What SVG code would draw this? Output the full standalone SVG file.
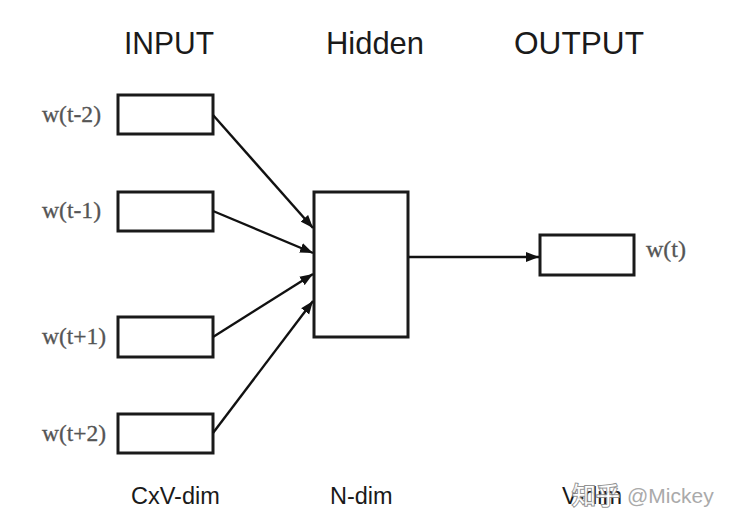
<svg xmlns="http://www.w3.org/2000/svg" width="732" height="526" viewBox="0 0 732 526">
<defs>
<marker id="ah" markerUnits="userSpaceOnUse" markerWidth="14" markerHeight="11" refX="13" refY="5.5" orient="auto">
<path d="M0,0.5 L13,5.5 L0,10.5 z" fill="#111"/>
</marker>
<style>
.box{fill:#fff;stroke:#1a1a1a;stroke-width:3}
.hdr{font-family:"Liberation Sans",Arial,sans-serif;font-size:32px;fill:#1a1a1a}
.dim{font-family:"Liberation Sans",Arial,sans-serif;font-size:23.5px;fill:#1a1a1a}
.lbl{font-family:"Liberation Serif","Times New Roman",serif;font-size:23px;fill:#555;stroke:#555;stroke-width:0.3}
.edge{stroke:#111;stroke-width:2.4;fill:none;marker-end:url(#ah)}
</style>
</defs>
<rect width="732" height="526" fill="#fff"/>
<g id="headers">
<text class="hdr" x="124" y="54" textLength="90" lengthAdjust="spacingAndGlyphs">INPUT</text>
<text class="hdr" x="326" y="54" textLength="98" lengthAdjust="spacingAndGlyphs">Hidden</text>
<text class="hdr" x="514" y="54" textLength="130" lengthAdjust="spacingAndGlyphs">OUTPUT</text>
</g>
<g id="in1">
<rect class="box" x="118" y="95" width="95" height="39"/>
<text class="lbl" x="42" y="122" textLength="59" lengthAdjust="spacingAndGlyphs">w(t-2)</text>
</g>
<g id="in2">
<rect class="box" x="118" y="192" width="95" height="39"/>
<text class="lbl" x="42" y="218" textLength="59" lengthAdjust="spacingAndGlyphs">w(t-1)</text>
</g>
<g id="in3">
<rect class="box" x="118" y="317" width="95" height="40"/>
<text class="lbl" x="42" y="344" textLength="64" lengthAdjust="spacingAndGlyphs">w(t+1)</text>
</g>
<g id="in4">
<rect class="box" x="118" y="414" width="95" height="39"/>
<text class="lbl" x="42" y="441" textLength="64" lengthAdjust="spacingAndGlyphs">w(t+2)</text>
</g>
<g id="hidden">
<rect class="box" x="314" y="192" width="94" height="145"/>
</g>
<g id="out">
<rect class="box" x="540" y="235" width="94" height="40"/>
<text class="lbl" x="646" y="257" textLength="40" lengthAdjust="spacingAndGlyphs">w(t)</text>
</g>
<g id="connectors">
<line class="edge" x1="213" y1="115" x2="313" y2="228"/>
<line class="edge" x1="213" y1="211" x2="313" y2="253"/>
<line class="edge" x1="213" y1="337" x2="313" y2="274"/>
<line class="edge" x1="213" y1="433" x2="313" y2="301"/>
<line class="edge" x1="409" y1="257" x2="539" y2="257"/>
</g>
<g id="dims">
<text class="dim" x="131" y="504">CxV-dim</text>
<text class="dim" x="330" y="504">N-dim</text>
<text class="dim" x="562" y="504">V-dim</text>
</g>
<g id="watermark">
<text x="572" y="504" font-family="'Noto Sans CJK SC',sans-serif" font-size="24" fill="#fff" stroke="#888" stroke-width="2" paint-order="stroke" opacity="0.9">知乎</text>
<text x="627" y="503" font-family="'Liberation Sans',Arial,sans-serif" font-size="21" fill="#aaa">@Mickey</text>
</g>
</svg>
